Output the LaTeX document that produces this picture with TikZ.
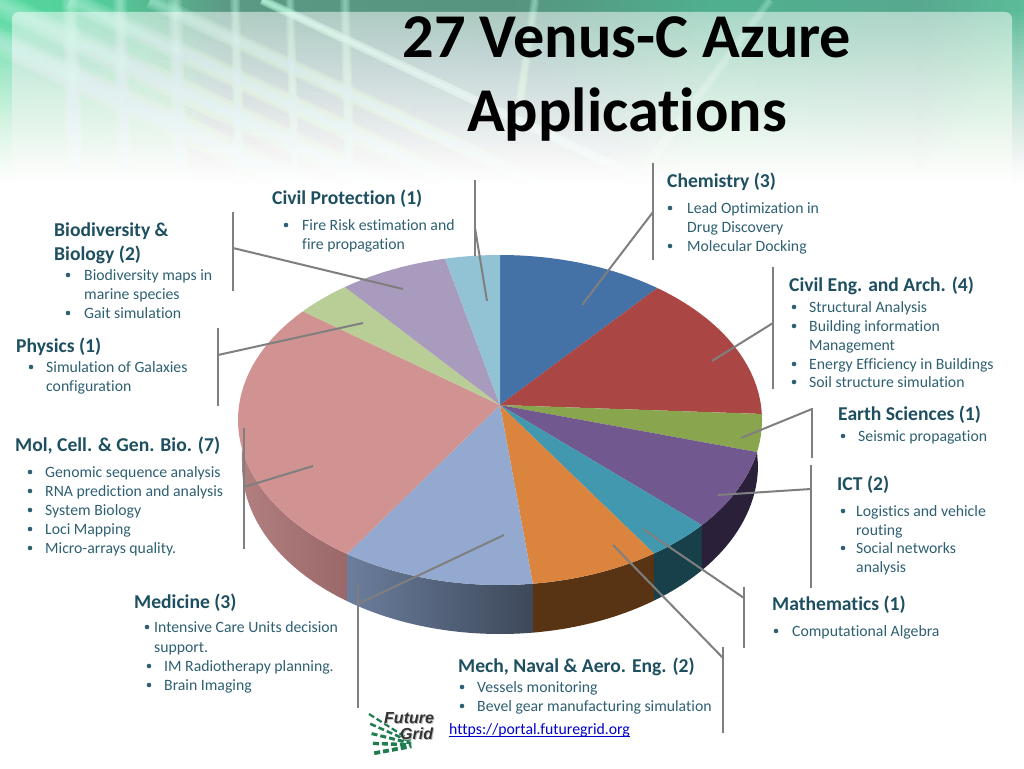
\documentclass[tikz,border=0pt]{standalone}
\usepackage{fontspec}
\setmainfont[Ligatures=NoCommon]{Carlito}
\newfontfamily\logofont{Liberation Sans}
\usetikzlibrary{calc}
\definecolor{hdcol}{HTML}{1E4F60}
\definecolor{itcol}{HTML}{2E6072}
\definecolor{barcol}{HTML}{7F7F7F}
\definecolor{lnkcol}{HTML}{0000CC}
\definecolor{gridcol}{HTML}{1F7D50}
\definecolor{streakcol}{HTML}{B4F2DA}
\definecolor{pieA}{HTML}{4471A6}
\definecolor{pieB}{HTML}{AA4643}
\definecolor{pieC}{HTML}{89A54E}
\definecolor{pieD}{HTML}{71588F}
\definecolor{pieE}{HTML}{4198AF}
\definecolor{pieF}{HTML}{DB843D}
\definecolor{pieG}{HTML}{93A9CF}
\definecolor{pieH}{HTML}{D19392}
\definecolor{pieI}{HTML}{B9CD96}
\definecolor{pieJ}{HTML}{A99BBD}
\definecolor{pieK}{HTML}{92C3D5}
\definecolor{wallPinkL}{HTML}{B17F7F}
\definecolor{wallPinkR}{HTML}{9A6868}
\definecolor{wallBlueL}{HTML}{6B7E9D}
\definecolor{wallBlueR}{HTML}{3D4859}
\definecolor{wallOrg}{HTML}{593414}
\definecolor{wallTea}{HTML}{17404A}
\definecolor{wallPur}{HTML}{2B203A}
\pgfdeclarehorizontalshading{topband}{100bp}{
 rgb(0bp)=(0.33,0.85,0.62);
 rgb(25bp)=(0.33,0.85,0.62);
 rgb(30bp)=(0.33,0.80,0.60);
 rgb(36bp)=(0.36,0.60,0.52);
 rgb(50bp)=(0.34,0.58,0.50);
 rgb(60bp)=(0.31,0.69,0.56);
 rgb(70bp)=(0.34,0.66,0.56);
 rgb(75bp)=(0.36,0.74,0.60);
 rgb(100bp)=(0.36,0.74,0.60)}
\tikzset{
 x=1pt,y=-1pt,
 declare function={
  rimx(\t)=500+262*cos(\t); rimy(\t)=420-165*sin(\t);
  lowx(\t)=500+258*cos(\t); lowy(\t)=465-169*sin(\t);},
 bar/.style={draw=barcol,line width=2pt},
 head/.style={anchor=base west,inner sep=0pt,text=hdcol,font=\fontsize{19.6}{22}\selectfont\bfseries},
 item/.style={anchor=base west,inner sep=0pt,text=itcol,font=\fontsize{15.75}{18}\selectfont},
 dot/.style={circle,fill=itcol,inner sep=0pt,minimum size=4.6pt},
 logotxt/.style={anchor=base west,inner sep=0pt,font=\logofont\bfseries\itshape\fontsize{16}{16}\selectfont},
 titletxt/.style={anchor=base,inner sep=0pt,font=\fontsize{62.3}{66}\selectfont\bfseries},
}
\newcommand{\slicetop}[3]{\fill[#3] (apex) -- plot[variable=\t,domain=#1:#2,samples=40] ({rimx(\t)},{rimy(\t)}) -- cycle;}
\newcommand{\wallpath}[4]{plot[variable=\t,domain=#1:#2,samples=40] ({rimx(\t)},{rimy(\t)}) -- plot[variable=\t,domain=#4:#3,samples=40] ({lowx(\t)},{lowy(\t)}) -- cycle}
\newcommand{\hd}[4]{\node[head] (#1) at (#2,#3) {#4};}
\newcommand{\itm}[4]{\node[item] (#1) at (#2,#3) {#4};}
\newcommand{\bul}[3]{\node[dot] (#1) at (#2,#3) {};}
% soft streak: stacked widths; #1 width, #2 opacity per layer, then the two end points
\newcommand{\softline}[4]{\foreach \f in {1,.75,.5,.25}{\draw[streakcol,line width=#1*\f pt,opacity=#2] #3 -- #4;}}
\begin{document}
\begin{tikzpicture}
\useasboundingbox (0,0) rectangle (1024,768);
\fill[white] (0,0) rectangle (1024,768);
% background
\shade[shading=topband] (0,0) rectangle (1024,185);
\begin{scope}
\clip (0,0) rectangle (1024,185);
\softline{9}{.4}{(262,0)}{(640,178)}
\foreach \xa/\wa in {150/16,70/20,-10/24,-90/26}{
  \softline{\wa}{.18}{(\xa,0)}{(\xa+420,198)}
}
\foreach \xb/\wb in {235/10,290/9,345/10,175/14,120/14,70/16}{
  \softline{\wb}{.17}{(\xb,0)}{(\xb+5,180)}
}
\softline{9}{.17}{(535,0)}{(520,100)}
\softline{9}{.12}{(770,0)}{(640,175)}
\end{scope}
\fill[white,opacity=.5,rounded corners=7pt] (12,12) rectangle (1012,195);
\foreach \i in {1,...,44}{
  \pgfmathsetmacro{\op}{1-((44-\i)/(45-\i))^1.5}
  \pgfmathsetmacro{\yy}{4*\i+8}
  \fill[white,opacity=\op] (0,\yy) rectangle (1024,195);
}
% pie
\coordinate (apex) at (500,405);
\shade[left color=wallPinkL,right color=wallPinkR] \wallpath{-125.7}{-170}{-126.4}{-180};
\shade[left color=wallBlueL,right color=wallBlueR] \wallpath{-82.8}{-125.7}{-82.6}{-126.4};
\fill[wallOrg] \wallpath{-54}{-82.8}{-53.3}{-82.6};
\fill[wallTea] \wallpath{-39.6}{-54}{-38.5}{-53.3};
\fill[wallPur] \wallpath{-11.2}{-39.6}{0}{-38.5};
\slicetop{90}{53.13}{pieA}
\slicetop{53.13}{2.1}{pieB}
\slicetop{2.1}{-11.2}{pieC}
\slicetop{-11.2}{-39.6}{pieD}
\slicetop{-39.6}{-54}{pieE}
\slicetop{-54}{-82.8}{pieF}
\slicetop{-82.8}{-125.7}{pieG}
\slicetop{-125.7}{-221.2}{pieH}
\slicetop{138.8}{126.3}{pieI}
\slicetop{126.3}{102.1}{pieJ}
\slicetop{102.1}{90}{pieK}
% connectors
\coordinate (chemT) at (653,163); \coordinate (chemB) at (653,260); \coordinate (chemJ) at (653,212); \coordinate (chemP) at (582,305);
\coordinate (cengT) at (773,267); \coordinate (cengB) at (773,389); \coordinate (cengJ) at (773,323); \coordinate (cengP) at (712,361);
\coordinate (earthT) at (812,408); \coordinate (earthB) at (812,458); \coordinate (earthJ) at (812,409); \coordinate (earthP) at (741,438);
\coordinate (ictT) at (811,465); \coordinate (ictB) at (811,588); \coordinate (ictJ) at (811,489); \coordinate (ictP) at (718,495);
\coordinate (mathT) at (744,587); \coordinate (mathB) at (744,648); \coordinate (mathJ) at (744,598); \coordinate (mathP) at (643,529);
\coordinate (mechT) at (723,647); \coordinate (mechB) at (723,733); \coordinate (mechJ) at (723,658); \coordinate (mechP) at (613,545);
\coordinate (medT) at (358,584); \coordinate (medB) at (358,708); \coordinate (medJ) at (358,604); \coordinate (medP) at (504,535);
\coordinate (molT) at (244,428); \coordinate (molB) at (244,549); \coordinate (molJ) at (244,487); \coordinate (molP) at (313,466);
\coordinate (physT) at (218,328); \coordinate (physB) at (218,406); \coordinate (physJ) at (218,355); \coordinate (physP) at (363,323);
\coordinate (bioT) at (233,212); \coordinate (bioB) at (233,291); \coordinate (bioJ) at (233,248); \coordinate (bioP) at (403,289);
\coordinate (cprT) at (475,180); \coordinate (cprB) at (475,256); \coordinate (cprJ) at (475,228); \coordinate (cprP) at (487,301);
\foreach \n in {chem,ceng,earth,ict,math,mech,med,mol,phys,bio,cpr}{
  \draw[bar] (\n T) -- (\n B);
  \draw[bar] (\n J) -- (\n P);
}
% title
\node[titletxt] (title1) at (627,58) {27 Venus-C Azure};
\node[titletxt] (title2) at (627,131) {Applications};
% Chemistry
\hd{h1}{667}{187}{Chemistry (3)}
\bul{b1a}{670}{208}\itm{t1a}{687}{213}{Lead Optimization in}
\itm{t1b}{687}{232}{Drug Discovery}
\bul{b1c}{670}{246}\itm{t1c}{687}{251}{Molecular Docking}
% Civil protection
\hd{h2}{272}{204}{Civil Protection (1)}
\bul{b2a}{286}{225}\itm{t2a}{302}{230}{Fire Risk estimation and}
\itm{t2b}{302}{249}{fire propagation}
% Biodiversity
\hd{h3}{54}{236}{Biodiversity \&}
\hd{h3b}{54}{260}{Biology (2)}
\bul{b3a}{68}{275}\itm{t3a}{84}{280}{Biodiversity maps in}
\itm{t3b}{84}{299}{marine species}
\bul{b3c}{68}{313}\itm{t3c}{84}{318}{Gait simulation}
% Physics
\hd{h4}{16}{352}{Physics (1)}
\bul{b4a}{31}{367}\itm{t4a}{46}{372}{Simulation of Galaxies}
\itm{t4b}{46}{391}{configuration}
% Mol
\hd{h5}{15}{451}{Mol, Cell. \& Gen. Bio. (7)}
\bul{b5a}{30}{472}\itm{t5a}{45}{477}{Genomic sequence analysis}
\bul{b5b}{30}{491}\itm{t5b}{45}{496}{RNA prediction and analysis}
\bul{b5c}{30}{510}\itm{t5c}{45}{515}{System Biology}
\bul{b5d}{30}{529}\itm{t5d}{45}{534}{Loci Mapping}
\bul{b5e}{30}{548}\itm{t5e}{45}{553}{Micro-arrays quality.}
% Medicine
\hd{h6}{134}{608}{Medicine (3)}
\bul{b6a}{147}{627}\itm{t6a}{154}{632}{Intensive Care Units decision}
\itm{t6b}{154}{652}{support.}
\bul{b6c}{149}{666}\itm{t6c}{164}{671}{IM Radiotherapy planning.}
\bul{b6d}{149}{685}\itm{t6d}{164}{690}{Brain Imaging}
% Mech
\hd{h7}{458}{672}{Mech, Naval \& Aero. Eng. (2)}
\bul{b7a}{462}{687}\itm{t7a}{477}{692}{Vessels monitoring}
\bul{b7b}{462}{706}\itm{t7b}{477}{711}{Bevel gear manufacturing simulation}
% link
\node[item,text=lnkcol] (link) at (449,734) {https://portal.futuregrid.org};
\draw[lnkcol,line width=.8pt] ($(link.base west)+(0,2)$) -- ($(link.base east)+(0,2)$);
% Mathematics
\hd{h8}{772}{610}{Mathematics (1)}
\bul{b8a}{776}{631}\itm{t8a}{792}{636}{Computational Algebra}
% ICT
\hd{h9}{837}{490}{ICT (2)}
\bul{b9a}{843}{511}\itm{t9a}{856}{516}{Logistics and vehicle}
\itm{t9b}{856}{535}{routing}
\bul{b9c}{843}{548}\itm{t9c}{856}{553}{Social networks}
\itm{t9d}{856}{572}{analysis}
% Earth
\hd{h10}{838}{420}{Earth Sciences (1)}
\bul{b10a}{843}{436}\itm{t10a}{858}{441}{Seismic propagation}
% Civil Eng
\hd{h11}{789}{291}{Civil Eng. and Arch. (4)}
\bul{b11a}{794}{307}\itm{t11a}{809}{312}{Structural Analysis}
\bul{b11b}{794}{326}\itm{t11b}{809}{331}{Building information}
\itm{t11c}{809}{350}{Management}
\bul{b11d}{794}{364}\itm{t11d}{809}{369}{Energy Efficiency in Buildings}
\bul{b11e}{794}{382}\itm{t11e}{809}{387}{Soil structure simulation}
% logo
\coordinate (van) at (418,745);
\foreach \s/\w in {0/2.2,1/2.6,2/3,3/3.4,4/3.8}{
  \coordinate (lft) at ($(369,714)+\s*(1.3,9.8)$);
  \draw[gridcol,line width=\w pt,dash pattern=on 6pt off 3pt] (lft) -- ($(lft)!.85!(van)$);
}
\node[logotxt,text=black!25] (logoAs) at (385,724) {Future};
\node[logotxt,text=black!25] (logoBs) at (401,740) {Grid};
\node[logotxt,text=black!80] (logoA) at (384,723) {Future};
\node[logotxt,text=black!80] (logoB) at (400,739) {Grid};
\end{tikzpicture}
\end{document}
